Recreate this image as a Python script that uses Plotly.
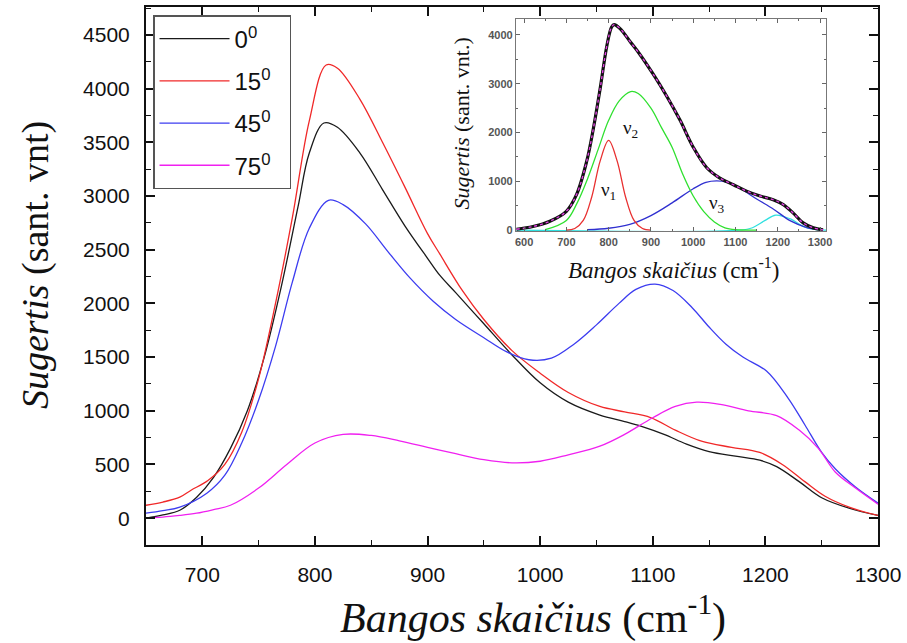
import plotly.graph_objects as go

# ---------------- main chart data ----------------
x_black = [650, 665, 680, 695, 710, 725, 740, 755, 770, 785, 795, 808, 820, 840, 860, 880, 900, 911, 925, 950, 975, 1000, 1025, 1053, 1075, 1090, 1110, 1130, 1150, 1175, 1195, 1210, 1230, 1250, 1275, 1300]
y_black = [0, 30, 74, 195, 380, 650, 1000, 1500, 2150, 2900, 3400, 3680, 3640, 3400, 3060, 2720, 2420, 2260, 2100, 1810, 1520, 1260, 1080, 960, 900, 855, 780, 690, 620, 575, 540, 480, 340, 190, 90, 25]

x_red = [650, 665, 680, 690, 705, 720, 735, 750, 765, 780, 795, 810, 820, 840, 860, 880, 900, 911, 931, 950, 975, 1000, 1025, 1053, 1075, 1098, 1120, 1144, 1170, 1195, 1215, 1235, 1253, 1275, 1300]
y_red = [120, 150, 195, 260, 350, 500, 800, 1300, 2000, 2800, 3700, 4220, 4190, 3900, 3500, 3080, 2650, 2458, 2118, 1850, 1560, 1350, 1170, 1040, 990, 937, 820, 714, 660, 612, 500, 340, 204, 100, 25]

x_blue = [650, 665, 680, 704, 720, 735, 750, 765, 780, 795, 812, 825, 845, 865, 885, 905, 925, 950, 970, 990, 1010, 1030, 1050, 1070, 1085, 1102, 1118, 1135, 1150, 1165, 1180, 1201, 1220, 1235, 1250, 1262, 1280, 1300]
y_blue = [46, 70, 102, 232, 400, 700, 1100, 1600, 2200, 2700, 2960, 2920, 2740, 2480, 2230, 2020, 1850, 1680, 1550, 1475, 1490, 1620, 1800, 2000, 2130, 2180, 2120, 1960, 1780, 1620, 1500, 1370, 1120, 870, 612, 460, 290, 140]

x_mag = [650, 665, 680, 695, 710, 725, 750, 775, 800, 825, 850, 875, 900, 925, 950, 975, 1000, 1025, 1053, 1075, 1100, 1120, 1139, 1160, 1185, 1210, 1230, 1247, 1262, 1280, 1300]
y_mag = [5, 10, 25, 46, 80, 120, 280, 500, 700, 780, 770, 720, 660, 600, 545, 515, 530, 590, 670, 780, 935, 1040, 1080, 1060, 1000, 955, 820, 650, 430, 280, 130]

legend_labels = ["0<sup>0</sup>", "15<sup>0</sup>", "45<sup>0</sup>", "75<sup>0</sup>"]

# ---------------- inset data ----------------
xi_total = [582, 621, 661, 700, 724, 748, 764, 780, 796, 807, 813, 827, 851, 874, 905, 937, 969, 1000, 1032, 1063, 1095, 1126, 1158, 1189, 1213, 1236, 1260, 1284, 1307]
yi_total = [20, 75, 184, 388, 728, 1408, 2088, 2905, 3789, 4163, 4211, 4129, 3860, 3600, 3200, 2750, 2250, 1700, 1280, 1068, 932, 800, 700, 626, 524, 354, 150, 48, 7]

xi_v1 = [700, 720, 740, 760, 780, 800, 820, 840, 860, 880, 900]
yi_v1 = [0, 35, 200, 680, 1420, 1840, 1420, 680, 200, 35, 0]

xi_v2 = [650, 700, 725, 750, 775, 800, 825, 852, 870, 900, 925, 950, 975, 1000, 1025, 1050, 1075, 1100, 1150]
yi_v2 = [10, 200, 550, 1050, 1650, 2250, 2650, 2840, 2800, 2500, 2100, 1700, 1150, 700, 380, 170, 50, 10, 0]

xi_v3 = [750, 800, 850, 900, 950, 1000, 1030, 1056, 1080, 1110, 1150, 1190, 1230, 1270, 1300]
yi_v3 = [10, 40, 120, 300, 560, 850, 980, 1010, 980, 860, 640, 430, 190, 50, 10]

xi_v4 = [582, 1110, 1140, 1170, 1195, 1230, 1260, 1290, 1314]
yi_v4 = [0, 0, 50, 200, 310, 230, 80, 10, 0]

main_x_ticks = [700, 800, 900, 1000, 1100, 1200, 1300]
main_y_ticks = [0, 500, 1000, 1500, 2000, 2500, 3000, 3500, 4000, 4500]
inset_x_ticks = [600, 700, 800, 900, 1000, 1100, 1200, 1300]
inset_y_ticks = [0, 1000, 2000, 3000, 4000]

fig = go.Figure()

pad = "\u00a0\u00a0"
main_series = [
    (x_black, y_black, "#1a1a1a"),
    (x_red, y_red, "#f02828"),
    (x_blue, y_blue, "#3c3cf0"),
    (x_mag, y_mag, "#f020f0"),
]
for i, (xs, ys, col) in enumerate(main_series):
    fig.add_trace(go.Scatter(x=xs, y=ys, mode="lines", name=legend_labels[i] + pad,
                             line=dict(color=col, width=1.3, shape="spline", smoothing=1.0),
                             legendgroup="g%d" % i, xaxis="x", yaxis="y"))

inset_series = [
    (xi_v4, yi_v4, "#30e0e0", 1.3, None),
    (xi_v3, yi_v3, "#3030d0", 1.3, None),
    (xi_v2, yi_v2, "#30e030", 1.3, None),
    (xi_v1, yi_v1, "#e83030", 1.3, None),
    (xi_total, yi_total, "#111111", 3.2, None),
    (xi_total, yi_total, "#e040e0", 1.4, "dot"),
]
for xs, ys, col, w, dash in inset_series:
    fig.add_trace(go.Scatter(x=xs, y=ys, mode="lines", showlegend=False,
                             line=dict(color=col, width=w, shape="spline", smoothing=1.0, dash=dash),
                             xaxis="x2", yaxis="y2", hoverinfo="skip"))

tickfont_main = dict(family="Liberation Sans, Arial, sans-serif", size=21, color="#111")
tickfont_inset = dict(family="Liberation Sans, Arial, sans-serif", size=11, color="#555")
serif = "Liberation Serif, Times New Roman, serif"

fig.update_layout(
    width=907, height=643,
    margin=dict(l=146, r=29, t=5, b=98),
    paper_bgcolor="white", plot_bgcolor="white",
    showlegend=True,
    legend=dict(x=0.0096, y=0.985, xanchor="left", yanchor="top",
                bordercolor="#555", borderwidth=1.5, bgcolor="white",
                font=dict(family="Liberation Sans, Arial, sans-serif", size=24, color="#111"),
                tracegroupgap=8, itemwidth=70),
    xaxis=dict(range=[650, 1300], domain=[0, 1], tickvals=main_x_ticks,
               ticks="inside", ticklen=9, tickwidth=1.5, tickcolor="#111",
               minor=dict(dtick=50, tick0=0, ticks="inside", ticklen=5, tickwidth=1.3, tickcolor="#111"),
               showline=True, linewidth=2, linecolor="#111", mirror="allticks",
               showgrid=False, zeroline=False, tickfont=tickfont_main, ticklabelstandoff=10),
    yaxis=dict(range=[-250, 4760], domain=[0, 1], tickvals=main_y_ticks,
               ticks="inside", ticklen=9, tickwidth=1.5, tickcolor="#111",
               minor=dict(dtick=250, tick0=0, ticks="inside", ticklen=5, tickwidth=1.3, tickcolor="#111"),
               showline=True, linewidth=2, linecolor="#111", mirror="allticks",
               showgrid=False, zeroline=False, tickfont=tickfont_main, ticklabelstandoff=10),
    xaxis2=dict(range=[581, 1314], domain=[0.5055, 0.929], anchor="y2", tickvals=inset_x_ticks,
                ticktext=["<b>%d</b>" % v for v in inset_x_ticks],
                ticks="inside", ticklen=4, tickwidth=1, tickcolor="#666",
                minor=dict(dtick=50, tick0=0, ticks="inside", ticklen=2, tickwidth=1, tickcolor="#666"),
                showline=True, linewidth=1.3, linecolor="#777", mirror="allticks",
                showgrid=False, zeroline=False, tickfont=tickfont_inset),
    yaxis2=dict(range=[-20, 4327], domain=[0.5833, 0.9778], anchor="x2", tickvals=inset_y_ticks,
                ticktext=["<b>%d</b>" % v for v in inset_y_ticks],
                ticks="inside", ticklen=4, tickwidth=1, tickcolor="#666",
                minor=dict(dtick=500, tick0=0, ticks="inside", ticklen=2, tickwidth=1, tickcolor="#666"),
                showline=True, linewidth=1.3, linecolor="#777", mirror="allticks",
                showgrid=False, zeroline=False, tickfont=tickfont_inset),
)

annotations = [
    dict(text="<i>Sugertis</i> (sant. vnt)", xref="paper", yref="paper", x=-0.1516, y=0.5204,
         textangle=-90, showarrow=False, font=dict(family=serif, size=38, color="#111"),
         xanchor="center", yanchor="middle"),
    dict(text="<i>Bangos skaičius</i> (cm<sup>-1</sup>)", xref="paper", yref="paper", x=0.5287, y=-0.1296,
         showarrow=False, font=dict(family=serif, size=42, color="#111"),
         xanchor="center", yanchor="middle"),
    dict(text="<i>Sugertis</i> (sant. vnt.)", xref="paper", yref="paper", x=0.4317, y=0.7833,
         textangle=-90, showarrow=False, font=dict(family=serif, size=22, color="#111"),
         xanchor="center", yanchor="middle"),
    dict(text="<i>Bangos skaičius</i> (cm<sup>-1</sup>)", xref="paper", yref="paper", x=0.72, y=0.5148,
         showarrow=False, font=dict(family=serif, size=23, color="#111"),
         xanchor="center", yanchor="middle"),
    dict(text="ν<sub>1</sub>", xref="x2", yref="y2", x=799, y=796, showarrow=False,
         font=dict(family=serif, size=19, color="#111")),
    dict(text="ν<sub>2</sub>", xref="x2", yref="y2", x=851, y=2080, showarrow=False,
         font=dict(family=serif, size=19, color="#111")),
    dict(text="ν<sub>3</sub>", xref="x2", yref="y2", x=1056, y=530, showarrow=False,
         font=dict(family=serif, size=19, color="#111")),
]
fig.update_layout(annotations=annotations)

fig.write_html("out.html")
